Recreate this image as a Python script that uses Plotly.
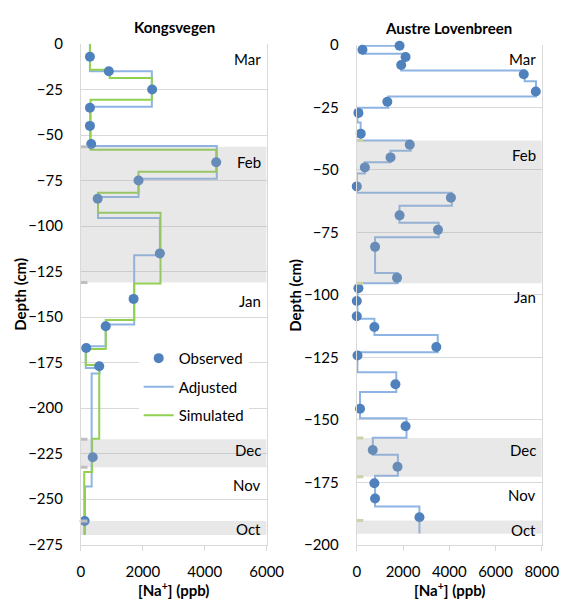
import plotly.graph_objects as go

W, H = 580, 610
FONT = "Lato"

# ---------------- Kongsvegen (left) ----------------
kv_obs_depth = [-7, -15, -25, -35, -45, -55, -65, -75, -85, -115, -140, -155, -167, -177, -227, -262]
kv_obs_na = [290, 900, 2300, 290, 290, 330, 4370, 1860, 540, 2550, 1700, 800, 170, 590, 380, 120]

kv_adj_top = [0, -15, -34.5, -56, -74, -84, -95.5, -116, -154, -166, -178, -181, -243]
kv_adj_na = [290, 2290, 300, 4390, 1860, 550, 2550, 1720, 800, 155, 600, 345, 130]
kv_adj_bottom = -269.5

kv_sim_top = [0, -14.2, -18.7, -30.7, -58.1, -70.2, -81.7, -92.7, -131.5, -151.6, -167.5, -176.3, -216.8, -235]
kv_sim_na = [290, 930, 2290, 310, 4370, 1860, 550, 2570, 1720, 800, 155, 590, 360, 105]
kv_sim_bottom = -269.5

kv_band_top = [-56.5, -217, -262]
kv_band_bottom = [-131, -232.4, -269.7]
kv_month = ["Mar", "Feb", "Jan", "Dec", "Nov", "Oct"]
kv_month_depth = [-8.4, -65, -141, -223, -242, -266.5]

# ---------------- Austre Lovenbreen (right) ----------------
al_obs_depth = [-0.3, -1.9, -4.8, -8, -11.7, -18.6, -22.7, -27.2, -35.5, -39.9, -45, -49, -56.6,
                -61.1, -68.2, -74, -80.8, -93.2, -97.4, -102.5, -108.6, -112.9, -120.9, -124.3,
                -135.8, -145.6, -152.6, -162.1, -168.8, -175.4, -181.5, -189]
al_obs_na = [1850, 245, 2110, 1920, 7220, 7740, 1320, 70, 170, 2290, 1460, 350, 0,
             4070, 1850, 3510, 790, 1740, 70, 0, 0, 760, 3440, 30,
             1670, 140, 2110, 690, 1760, 760, 790, 2710]

al_adj_top = [0, -0.3, -3.5, -6.5, -10.2, -14.5, -20.6, -25.1, -31, -38.2, -42.3, -46.9, -51.4,
              -59.1, -64.3, -71.2, -77, -91.3, -95.4, -109.6, -116.1, -123, -131, -138.9,
              -149.4, -157.2, -164, -172.4, -184.7]
al_adj_na = [1850, 245, 2090, 1917, 7260, 7750, 1360, 28, 167, 2333, 1458, 346, 0,
             4110, 1846, 3541, 790, 1763, 28, 763, 3500, 28, 1708, 139,
             2150, 694, 1777, 790, 2708]
al_adj_bottom = -195.5

al_band_top = [-38.2, -157.3, -190.3]
al_band_bottom = [-95.4, -172.8, -195.6]
al_month = ["Mar", "Feb", "Jan", "Dec", "Nov", "Oct"]
al_month_depth = [-5.7, -44, -101, -162, -180, -194]

x_ticks_kv = [0, 2000, 4000, 6000]
x_ticks_al = [0, 2000, 4000, 6000, 8000]

OBS_COLOR = "#4f81bd"
ADJ_COLOR = "#8eb4e3"
SIM_COLOR = "#92d050"
GRID = "#d9d9d9"


def step(vals, tops, bottom):
    return list(vals) + [vals[-1]], list(tops) + [bottom]


fig = go.Figure()

# left lines
x, y = step(kv_adj_na, kv_adj_top, kv_adj_bottom)
fig.add_trace(go.Scatter(x=x, y=y, mode="lines", line=dict(color=ADJ_COLOR, width=2, shape="vh"),
                         name="Adjusted", legendgroup="b", legendrank=2, xaxis="x", yaxis="y"))
x, y = step(kv_sim_na, kv_sim_top, kv_sim_bottom)
fig.add_trace(go.Scatter(x=x, y=y, mode="lines", line=dict(color=SIM_COLOR, width=2, shape="vh"),
                         name="Simulated", legendgroup="c", legendrank=3, xaxis="x", yaxis="y"))
fig.add_trace(go.Scatter(x=kv_obs_na, y=kv_obs_depth, mode="markers",
                         marker=dict(color=OBS_COLOR, size=10), cliponaxis=False,
                         name="Observed", legendgroup="a", legendrank=1, xaxis="x", yaxis="y"))

# right
x, y = step(al_adj_na, al_adj_top, al_adj_bottom)
fig.add_trace(go.Scatter(x=x, y=y, mode="lines", line=dict(color=ADJ_COLOR, width=2, shape="vh"),
                         showlegend=False, xaxis="x2", yaxis="y2"))
fig.add_trace(go.Scatter(x=al_obs_na, y=al_obs_depth, mode="markers",
                         marker=dict(color=OBS_COLOR, size=10), cliponaxis=False,
                         showlegend=False, xaxis="x2", yaxis="y2"))

shapes = []
annotations = []
for (xr, yr, tops, bots, xmax, markcol) in [("x", "y", kv_band_top, kv_band_bottom, 6000, "#bfbfbf"),
                                            ("x2", "y2", al_band_top, al_band_bottom, 8000, "#c9d3a8")]:
    for t, b in zip(tops, bots):
        shapes.append(dict(type="rect", xref=xr, yref=yr, x0=0, x1=xmax, y0=b, y1=t,
                           fillcolor="rgba(170,170,170,0.27)", line=dict(width=0), layer="above"))
    marks = tops + bots[:-1]
    for m in marks:
        shapes.append(dict(type="line", xref=xr, yref=yr, x0=0, x1=xmax * 0.035, y0=m, y1=m,
                           line=dict(color=markcol, width=3), layer="above"))

for (xr, yr, months, depths, xmax) in [("x", "y", kv_month, kv_month_depth, 6000),
                                       ("x2", "y2", al_month, al_month_depth, 8000)]:
    for mo, d in zip(months, depths):
        annotations.append(dict(text=mo, x=xmax, y=d, xref=xr, yref=yr, xanchor="right",
                                yanchor="middle", xshift=-4, showarrow=False,
                                font=dict(family=FONT, size=15, color="#000")))

# titles
for txt, cx, cy in [("Kongsvegen", 177, 18), ("Austre Lovenbreen", 462, 19)]:
    annotations.append(dict(text="<b>%s</b>" % txt, x=cx / W, y=1 - cy / H, xref="paper", yref="paper",
                            xanchor="center", yanchor="middle", showarrow=False,
                            font=dict(family=FONT, size=15, color="#000")))
for cx, cy in [(176, 597), (463, 597)]:
    annotations.append(dict(text="<b>[Na<sup>+</sup>] (ppb)</b>", x=cx / W, y=1 - cy / H, xref="paper",
                            yref="paper", xanchor="center", yanchor="middle", showarrow=False,
                            font=dict(family=FONT, size=15, color="#000")))
for cx, cy in [(17, 293), (303, 294)]:
    annotations.append(dict(text="<b>Depth (cm)</b>", x=cx / W, y=1 - cy / H, xref="paper",
                            yref="paper", xanchor="center", yanchor="middle", showarrow=False,
                            textangle=-90, font=dict(family=FONT, size=15, color="#000")))

xcommon = dict(showgrid=False, showline=True, linecolor=GRID, linewidth=1, ticks="outside",
               ticklen=5, tickcolor=GRID, zeroline=False, ticklabelstandoff=8,
               tickfont=dict(family=FONT, size=15, color="#000"), fixedrange=True)
ycommon = dict(showgrid=True, gridcolor=GRID, gridwidth=1, showline=True, mirror=True,
               linecolor=GRID, linewidth=1, ticks="", zeroline=False, ticklabelstandoff=14,
               tickfont=dict(family=FONT, size=15, color="#000"), fixedrange=True, dtick=25)

fig.update_layout(
    width=W, height=H, margin=dict(l=0, r=0, t=0, b=0),
    paper_bgcolor="white", plot_bgcolor="rgba(0,0,0,0)",
    xaxis=dict(domain=[80 / W, 273 / W], range=[0, 6000], tickvals=x_ticks_kv, anchor="y", **xcommon),
    yaxis=dict(domain=[1 - 551 / H, 1 - 35 / H], range=[-275, 0], anchor="x", **ycommon),
    xaxis2=dict(domain=[366.7 / W, 559 / W], range=[0, 8000], tickvals=x_ticks_al, anchor="y2", **xcommon),
    yaxis2=dict(domain=[1 - 551 / H, 1 - 36 / H], range=[-200, 0], anchor="x2", **ycommon),
    showlegend=True,
    legend=dict(x=140 / W, y=1 - 342 / H, xanchor="left", yanchor="top", bgcolor="white",
                font=dict(family=FONT, size=15, color="#000"), tracegroupgap=6,
                traceorder="grouped", itemwidth=30),
    shapes=shapes, annotations=annotations,
)

fig.write_html("out.html")
